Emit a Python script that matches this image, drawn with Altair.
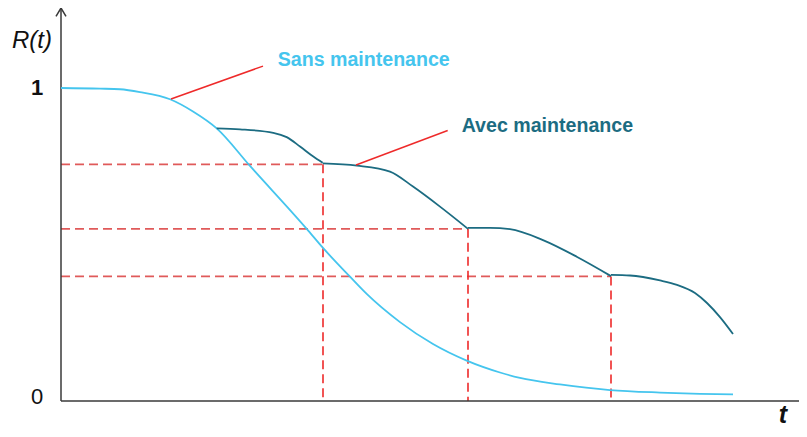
import altair as alt
import pandas as pd

# ---- data (t in arbitrary units, R in [0,1]) ----
sans_t = [0.00, 0.39, 0.59, 0.79, 1.09, 1.32, 1.557, 1.89, 2.457, 2.62, 2.89, 3.057, 3.39, 3.72, 4.057, 4.39, 4.59, 4.99, 5.49, 5.99, 6.39, 6.72]
sans_R = [1.000, 0.998, 0.996, 0.987, 0.964, 0.925, 0.871, 0.751, 0.550, 0.489, 0.397, 0.342, 0.252, 0.182, 0.129, 0.091, 0.0735, 0.053, 0.035, 0.027, 0.023, 0.021]

avec_t = [1.557, 1.79, 2.123, 2.257, 2.39, 2.523, 2.617,
          2.617, 2.96, 3.29, 3.52, 3.79, 4.07,
          4.07, 4.29, 4.49, 4.82, 5.157, 5.50,
          5.50, 5.69, 5.99, 6.16, 6.34, 6.46, 6.59, 6.72]
avec_R = [0.871, 0.868, 0.857, 0.843, 0.813, 0.781, 0.761,
          0.759, 0.752, 0.733, 0.685, 0.621, 0.550,
          0.553, 0.553, 0.549, 0.514, 0.461, 0.399,
          0.403, 0.401, 0.385, 0.371, 0.345, 0.313, 0.268, 0.214]
avec_seg = [1] * 7 + [2] * 6 + [3] * 6 + [4] * 8

maint_t = [2.62, 4.07, 5.50]
maint_R = [0.756, 0.550, 0.398]

leader_t = [1.10, 2.02, 2.95, 3.867]
leader_R = [0.965, 1.070, 0.754, 0.864]
leader_id = ["s", "s", "a", "a"]

label_text = ["Sans maintenance", "Avec maintenance"]
label_t = [2.167, 4.007]
label_R = [1.091, 0.879]

X_DOM = [-0.53, 7.38]
Y_DOM = [-0.0895, 1.2556]

LIGHT = "#45C5EE"
DARK = "#1C6C82"
RED = "#EE2A2A"
AXIS = "#3A3A3A"

xs = alt.Scale(domain=X_DOM, nice=False, zero=False)
ys = alt.Scale(domain=Y_DOM, nice=False, zero=False)


def X(f="t"):
    return alt.X(f"{f}:Q", scale=xs, axis=None)


def Y(f="R"):
    return alt.Y(f"{f}:Q", scale=ys, axis=None)


sans_df = pd.DataFrame({"t": sans_t, "R": sans_R, "i": range(len(sans_t))})
avec_df = pd.DataFrame({"t": avec_t, "R": avec_R, "seg": avec_seg, "i": range(len(avec_t))})
maint_df = pd.DataFrame({"t": maint_t, "R": maint_R, "t0": [0.0] * 3, "R0": [0.0] * 3})
leader_df = pd.DataFrame({"t": leader_t, "R": leader_R, "id": leader_id, "i": range(4)})
label_df = pd.DataFrame({"t": label_t, "R": label_R, "text": label_text, "c": [LIGHT, DARK]})

# axes (drawn as lines, arrow on the vertical one)
axes_df = pd.DataFrame({
    "t": [0.0, 0.0, -0.05, 0.0, 0.05, 0.0, 7.38],
    "R": [0.0, 1.2556, 1.229, 1.2556, 1.229, 0.0, 0.0],
    "g": ["ya", "ya", "yh", "yh", "yh", "xa", "xa"],
    "i": list(range(7)),
})

axes = alt.Chart(axes_df).mark_line(color=AXIS, strokeWidth=1.5).encode(
    x=X(), y=Y(), detail="g:N", order="i:Q")

h_dash = alt.Chart(maint_df).mark_rule(color="#E05A5A", strokeWidth=1.6, strokeDash=[9, 5]).encode(
    x=alt.X("t0:Q", scale=xs, axis=None), x2="t:Q", y=Y())
v_dash = alt.Chart(maint_df).mark_rule(color=RED, strokeWidth=1.6, strokeDash=[9, 5]).encode(
    x=X(), y=Y(), y2="R0:Q")

sans = alt.Chart(sans_df).mark_line(color=LIGHT, strokeWidth=1.8, interpolate="monotone").encode(
    x=X(), y=Y(), order="i:Q")
avec = alt.Chart(avec_df).mark_line(color=DARK, strokeWidth=1.8, interpolate="monotone").encode(
    x=X(), y=Y(), detail="seg:N", order="i:Q")

leaders = alt.Chart(leader_df).mark_line(color=RED, strokeWidth=1.5).encode(
    x=X(), y=Y(), detail="id:N", order="i:Q")

labels = alt.Chart(label_df).mark_text(
    align="left", baseline="middle", font="Liberation Sans", fontWeight="bold", fontSize=19.6
).encode(x=X(), y=Y(), text="text:N", color=alt.Color("c:N", scale=None))

ax_text_df = pd.DataFrame({
    "t": [-0.29, -0.24, -0.24, 7.22],
    "R": [1.150, 1.0, 0.012, -0.0873],
    "text": ["R(t)", "1", "0", "t"],
})
rt = alt.Chart(ax_text_df.iloc[[0]]).mark_text(
    align="center", baseline="middle", font="Liberation Sans", fontStyle="italic", fontSize=24, color="#111"
).encode(x=X(), y=Y(), text="text:N")
one = alt.Chart(ax_text_df.iloc[[1]]).mark_text(
    align="center", baseline="middle", font="Liberation Sans", fontWeight="bold", fontSize=22, color="#111"
).encode(x=X(), y=Y(), text="text:N")
zero = alt.Chart(ax_text_df.iloc[[2]]).mark_text(
    align="center", baseline="middle", font="Liberation Sans", fontSize=22, color="#111"
).encode(x=X(), y=Y(), text="text:N")
tt = alt.Chart(ax_text_df.iloc[[3]]).mark_text(
    align="center", baseline="bottom", font="Liberation Sans", fontStyle="italic", fontWeight="bold",
    fontSize=25, color="#111"
).encode(x=X(), y=Y(), text="text:N")

chart = alt.layer(h_dash, v_dash, axes, sans, avec, leaders, labels, rt, one, zero, tt).properties(
    width=791, height=421, padding=0, autosize=alt.AutoSizeParams(type="none"), background="white"
).configure_view(stroke=None)

chart.save("out.html", embed_options={"renderer": "svg", "actions": False})
